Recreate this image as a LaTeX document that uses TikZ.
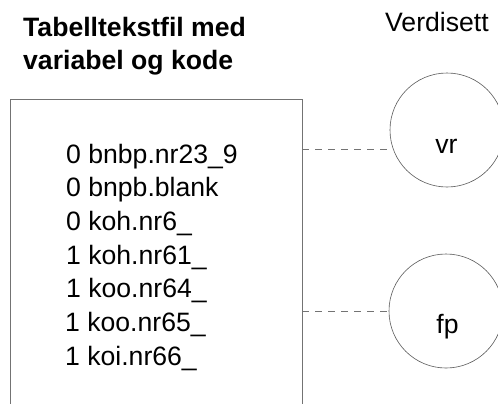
\documentclass[tikz,border=0pt]{standalone}
\usepackage{fontspec}
\setmainfont{Liberation Sans}
\begin{document}
\begin{tikzpicture}[x=1bp,y=-1bp,
  txt/.style={inner sep=0pt, font=\fontsize{26.6bp}{32bp}\selectfont, text=black},
  head/.style={txt, font=\fontsize{26.6bp}{32bp}\selectfont\bfseries},
  item/.style={txt, anchor=base west},
  setcircle/.style={circle, draw=black!65, line width=0.6bp, inner sep=0pt, minimum size=114bp},
  frame/.style={draw=black!55, line width=0.6bp},
  link/.style={draw=black!55, line width=0.5bp, dash pattern=on 7bp off 6bp}]
\useasboundingbox (0,0) rectangle (498,403);

% headings
\node[head, anchor=base west] (h1) at (23,36) {Tabelltekstfil med};
\node[head, anchor=base west] (h2) at (23,69) {variabel og kode};
\node[txt, anchor=base west] (h3) at (385,31) {Verdisett};

% file box, open at the bottom
\node[minimum width=291bp, minimum height=306bp, inner sep=0pt] (box) at (156.5,252) {};
\draw[frame] (box.south west) |- (box.north east) -- (box.south east);

% file contents
\node[item] (l1) at (66,163)   {0 bnbp.nr23\_9};
\node[item] (l2) at (66,196.5) {0 bnpb.blank};
\node[item] (l3) at (66,230)   {0 koh.nr6\_};
\node[item] (l4) at (66,264)   {1 koh.nr61\_};
\node[item] (l5) at (66,297.5) {1 koo.nr64\_};
\node[item] (l6) at (65,331)   {1 koo.nr65\_};
\node[item] (l7) at (65,365)   {1 koi.nr66\_};

% value sets
\node[setcircle] (vr) at (447,130) {};
\node[setcircle] (fp) at (446,311) {};
\node[txt, anchor=base] (vrt) at (446.5,153) {vr};
\node[txt, anchor=base] (fpt) at (447.5,333) {fp};

% links from file to value sets
\draw[link] (vr.200.5 -| box.east) -- (vr.200.5);
\draw[link] (fp.west -| box.east) -- (fp.west);
\end{tikzpicture}
\end{document}
